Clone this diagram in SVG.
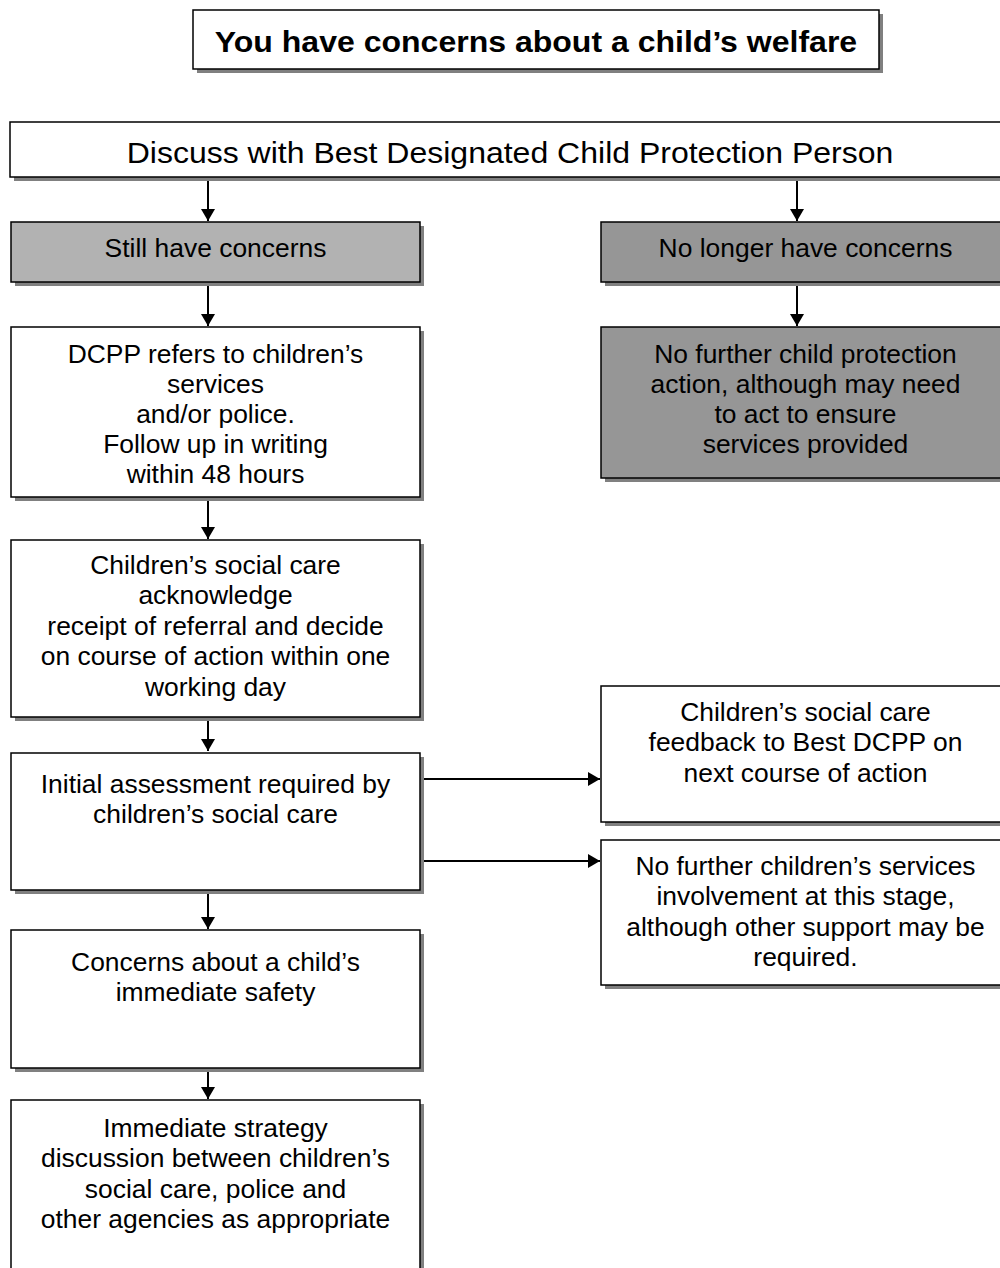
<svg xmlns="http://www.w3.org/2000/svg" width="1000" height="1268" viewBox="0 0 1000 1268">
<style>
.box{stroke:#000;stroke-width:1.5}
.w{fill:#fff}
.g1{fill:#b2b2b2}
.g2{fill:#969696}
.sh{fill:#808080}
text{font-family:"Liberation Sans",Arial,sans-serif;font-size:25px;fill:#000;text-anchor:middle;transform-box:fill-box;transform-origin:center;transform:scaleX(1.057)}
.title{font-weight:bold;font-size:30px;transform:scaleX(1.068)}
.big{font-size:29px;transform:scaleX(1.104)}
.c{stroke:#000;stroke-width:2;fill:none}
</style>
<defs>
<marker id="ah" viewBox="0 0 12 14" refX="12" refY="7" markerWidth="12" markerHeight="14" markerUnits="userSpaceOnUse" orient="auto">
<path d="M0,0 L12,7 L0,14 Z" fill="#000"/>
</marker>
</defs>
<rect width="1000" height="1268" fill="#fff"/>
<g id="connectors">
<line class="c" x1="208" y1="178" x2="208" y2="221" marker-end="url(#ah)"/>
<line class="c" x1="797" y1="178" x2="797" y2="221" marker-end="url(#ah)"/>
<line class="c" x1="208" y1="282" x2="208" y2="326" marker-end="url(#ah)"/>
<line class="c" x1="797" y1="282" x2="797" y2="326" marker-end="url(#ah)"/>
<line class="c" x1="208" y1="497" x2="208" y2="539" marker-end="url(#ah)"/>
<line class="c" x1="208" y1="717" x2="208" y2="751" marker-end="url(#ah)"/>
<line class="c" x1="420" y1="779" x2="600" y2="779" marker-end="url(#ah)"/>
<line class="c" x1="420" y1="861" x2="600" y2="861" marker-end="url(#ah)"/>
<line class="c" x1="208" y1="890" x2="208" y2="929" marker-end="url(#ah)"/>
<line class="c" x1="208" y1="1068" x2="208" y2="1099" marker-end="url(#ah)"/>
</g>
<g id="title">
<rect class="sh" x="197" y="14" width="686" height="59"/>
<rect class="box w" x="193" y="10" width="686" height="59"/>
<text class="title" x="536" y="52">You have concerns about a child’s welfare</text>
</g>
<g id="discuss">
<rect class="sh" x="14" y="126" width="1000" height="55"/>
<rect class="box w" x="10" y="122" width="1000" height="55"/>
<text class="big" x="510" y="163">Discuss with Best Designated Child Protection Person</text>
</g>
<g id="still">
<rect class="sh" x="15" y="226" width="409" height="60"/>
<rect class="box g1" x="11" y="222" width="409" height="60"/>
<text x="215.5" y="257">Still have concerns</text>
</g>
<g id="nolonger">
<rect class="sh" x="605" y="226" width="409" height="60"/>
<rect class="box g2" x="601" y="222" width="409" height="60"/>
<text x="805.5" y="257">No longer have concerns</text>
</g>
<g id="nofurthercp">
<rect class="sh" x="605" y="331" width="409" height="151"/>
<rect class="box g2" x="601" y="327" width="409" height="151"/>
<text x="805.5" y="363">No further child protection</text>
<text x="805.5" y="393">action, although may need</text>
<text x="805.5" y="423">to act to ensure</text>
<text x="805.5" y="453">services provided</text>
</g>
<g id="dcpp">
<rect class="sh" x="15" y="331" width="409" height="170"/>
<rect class="box w" x="11" y="327" width="409" height="170"/>
<text x="215.5" y="363">DCPP refers to children’s</text>
<text x="215.5" y="393">services</text>
<text x="215.5" y="423">and/or police.</text>
<text x="215.5" y="453">Follow up in writing</text>
<text x="215.5" y="483">within 48 hours</text>
</g>
<g id="acknowledge">
<rect class="sh" x="15" y="544" width="409" height="177"/>
<rect class="box w" x="11" y="540" width="409" height="177"/>
<text x="215.5" y="574">Children’s social care</text>
<text x="215.5" y="604.5">acknowledge</text>
<text x="215.5" y="635">receipt of referral and decide</text>
<text x="215.5" y="665.5">on course of action within one</text>
<text x="215.5" y="696">working day</text>
</g>
<g id="initial">
<rect class="sh" x="15" y="757" width="409" height="137"/>
<rect class="box w" x="11" y="753" width="409" height="137"/>
<text x="215.5" y="793">Initial assessment required by</text>
<text x="215.5" y="823.5">children’s social care</text>
</g>
<g id="feedback">
<rect class="sh" x="605" y="690" width="409" height="136"/>
<rect class="box w" x="601" y="686" width="409" height="136"/>
<text x="805.5" y="721">Children’s social care</text>
<text x="805.5" y="751.5">feedback to Best DCPP on</text>
<text x="805.5" y="782">next course of action</text>
</g>
<g id="nofurtherservices">
<rect class="sh" x="605" y="844" width="409" height="145"/>
<rect class="box w" x="601" y="840" width="409" height="145"/>
<text x="805.5" y="875">No further children’s services</text>
<text x="805.5" y="905.5">involvement at this stage,</text>
<text x="805.5" y="936">although other support may be</text>
<text x="805.5" y="966.5">required.</text>
</g>
<g id="safety">
<rect class="sh" x="15" y="934" width="409" height="138"/>
<rect class="box w" x="11" y="930" width="409" height="138"/>
<text x="215.5" y="971">Concerns about a child’s</text>
<text x="215.5" y="1001">immediate safety</text>
</g>
<g id="strategy">
<rect class="sh" x="15" y="1104" width="409" height="180"/>
<rect class="box w" x="11" y="1100" width="409" height="180"/>
<text x="215.5" y="1137">Immediate strategy</text>
<text x="215.5" y="1167">discussion between children’s</text>
<text x="215.5" y="1198">social care, police and</text>
<text x="215.5" y="1228">other agencies as appropriate</text>
</g>
</svg>
